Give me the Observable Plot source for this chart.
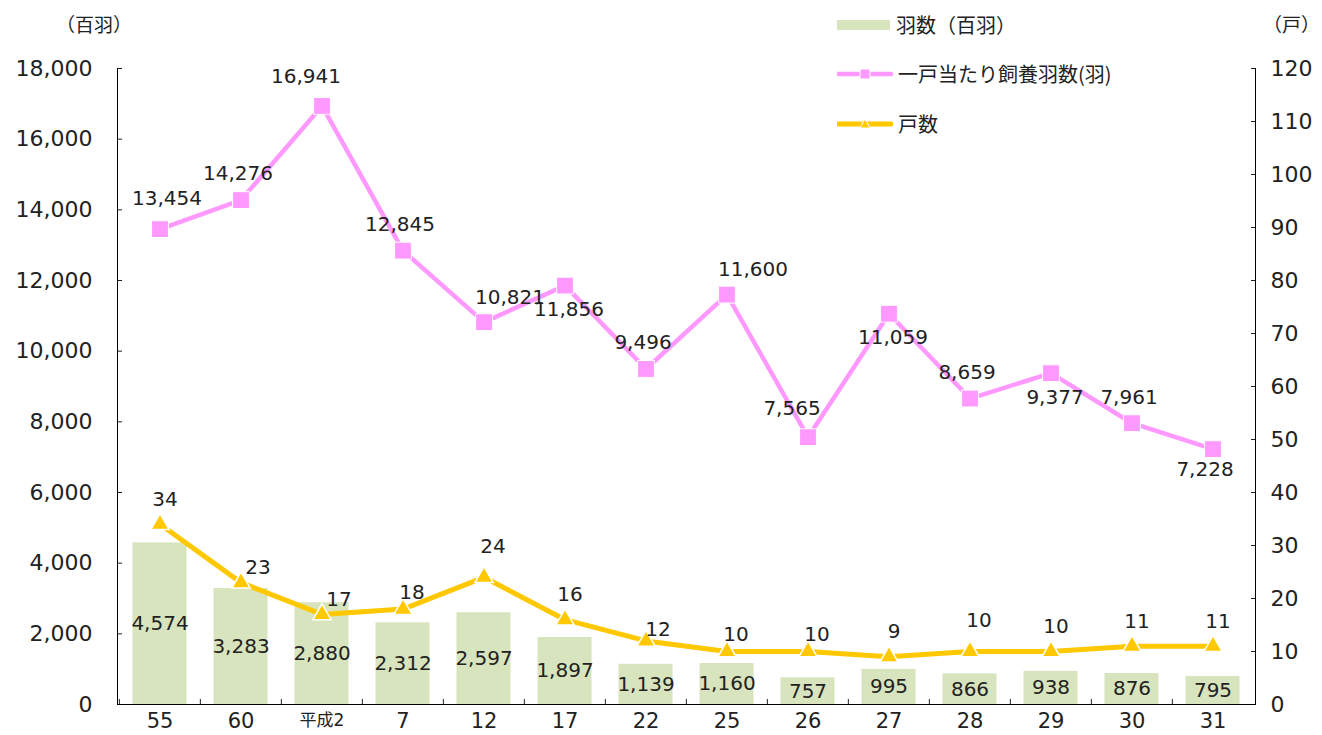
<!DOCTYPE html>
<html><head><meta charset="utf-8">
<script src="https://cdn.jsdelivr.net/npm/d3@7"></script>
<script src="https://cdn.jsdelivr.net/npm/@observablehq/plot@0.6"></script>
<style>
html,body{margin:0;padding:0;background:#fff;}
#wrap{position:relative;width:1322px;height:735px;font-family:"Noto Sans CJK JP","Noto Sans",sans-serif;color:#222;overflow:hidden;}
#wrap svg{position:absolute;left:0;top:0;}
.ttl{position:absolute;font-size:19px;line-height:24px;white-space:nowrap;}
.leg{position:absolute;left:837px;font-size:20px;line-height:24px;display:flex;align-items:center;white-space:nowrap;}
.leg svg{position:static!important;margin-right:5px;}
</style></head><body>
<div id="wrap"></div>
<script>
// ---- data ----
const categories = ["55","60","平成2","7","12","17","22","25","26","27","28","29","30","31"];
const birds = [4574,3283,2880,2312,2597,1897,1139,1160,757,995,866,938,876,795];
const perHousehold = [13454,14276,16941,12845,10821,11856,9496,11600,7565,11059,8659,9377,7961,7228];
const households = [34,23,17,18,24,16,12,10,10,9,10,10,11,11];
const leftTicks = [0,2000,4000,6000,8000,10000,12000,14000,16000,18000];
const rightTicks = [0,10,20,30,40,50,60,70,80,90,100,110,120];
const seriesNames = ["羽数（百羽）","一戸当たり飼養羽数(羽)","戸数"];
const leftUnit = "（百羽）";
const rightUnit = "（戸）";

// ---- layout / style ----
const W = 1322, H = 735, mL = 117, mR = 67, mT = 68, mB = 31;
const green = "#d7e4bd", pink = "#ff99ff", yellow = "#ffc800";
const numFont = '"DejaVu Sans","Noto Sans CJK JP",sans-serif';
const ratio = leftTicks[leftTicks.length-1] / rightTicks[rightTicks.length-1];
const step = (W - mL - mR) / categories.length;
const fmt = d3.format(",");

const data = categories.map((c, i) => ({c, i, birds: birds[i], per: perHousehold[i], hh: households[i]}));

// label placements (layout only)
const pinkPlace = [
  {idx:[0], dx:7, dy:-31},
  {idx:[1,3,6,10,12], dx:-3, dy:-26},
  {idx:[2,8], dx:-16, dy:-29},
  {idx:[4,7], dx:26, dy:-25},
  {idx:[5,9,11], dx:4, dy:24},
  {idx:[13], dx:-8, dy:20}
];
const yellowPlace = [
  {idx:[1,2], dx:17, dy:-15},
  {idx:[6], dx:12, dy:-11},
  {idx:[3,7,8], dx:9, dy:-17},
  {idx:[0,5,9,11,12,13], dx:5, dy:-25},
  {idx:[4,10], dx:9, dy:-31}
];

const labelMarks = [];
for (const p of pinkPlace) {
  labelMarks.push(Plot.text(data.filter(d => p.idx.includes(d.i)), {
    x: "c", y: "per", text: d => fmt(d.per), dx: p.dx, dy: p.dy, fontSize: 20, fill: "#222"
  }));
}
for (const p of yellowPlace) {
  labelMarks.push(Plot.text(data.filter(d => p.idx.includes(d.i)), {
    x: "c", y: d => d.hh * ratio, text: d => String(d.hh), dx: p.dx, dy: p.dy, fontSize: 20, fill: "#222"
  }));
}

const chart = Plot.plot({
  width: W, height: H,
  marginLeft: mL, marginRight: mR, marginTop: mT, marginBottom: mB,
  style: {fontFamily: numFont, fontSize: "20px", color: "#222", background: "transparent"},
  x: {domain: categories, padding: 0, label: null},
  y: {domain: [0, leftTicks[leftTicks.length-1]], label: null},
  marks: [
    Plot.barY(data, {x: "c", y: "birds", fill: green, insetLeft: 13.5, insetRight: 13.5}),
    Plot.text(data, {x: "c", y: d => d.birds / 2, text: d => fmt(d.birds), fontSize: 20, fill: "#222"}),
    Plot.line(data, {x: "c", y: "per", stroke: pink, strokeWidth: 4.5, strokeLinejoin: "round"}),
    Plot.dot(data, {x: "c", y: "per", symbol: "square", r: 9.5, fill: pink, stroke: "#fff", strokeWidth: 1}),
    Plot.line(data, {x: "c", y: d => d.hh * ratio, stroke: yellow, strokeWidth: 5, strokeLinejoin: "round"}),
    Plot.dot(data, {x: "c", y: d => d.hh * ratio, symbol: "triangle", r: 6.8, fill: yellow, stroke: "#fff", strokeWidth: 1.5}),
    ...labelMarks,
    Plot.axisY(leftTicks, {anchor: "left", tickSize: -5, tickPadding: 30, tickFormat: fmt, fontSize: 22, label: null}),
    Plot.axisY(rightTicks.map(v => v * ratio), {anchor: "right", tickSize: -5, tickPadding: 20, tickFormat: v => String(Math.round(v / ratio)), fontSize: 22, label: null}),
    Plot.axisX({tickSize: 0, tickPadding: 9, fontSize: 21, label: null}),
    Plot.axisX({tickSize: -5, tickFormat: () => "", dx: -step / 2, label: null}),
    Plot.frame({anchor: "left", stroke: "#000"}),
    Plot.frame({anchor: "right", stroke: "#000"}),
    Plot.frame({anchor: "bottom", stroke: "#000"})
  ]
});

const wrap = document.getElementById("wrap");
wrap.appendChild(chart);

// "平成2" label is set slightly smaller in the reference
chart.querySelectorAll("text").forEach(t => { if (t.textContent === "平成2") t.setAttribute("font-size", "17"); });

// unit titles
const t1 = document.createElement("div"); t1.className = "ttl"; t1.textContent = leftUnit;
t1.style.left = "56px"; t1.style.top = "12px"; wrap.appendChild(t1);
const t2 = document.createElement("div"); t2.className = "ttl"; t2.textContent = rightUnit;
t2.style.left = "1263px"; t2.style.top = "12px"; wrap.appendChild(t2);

// legend
const legSw = [
  `<svg width="54" height="14"><rect x="0" y="2" width="53" height="10" fill="${green}"/></svg>`,
  `<svg width="56" height="14"><line x1="1" y1="7" x2="54" y2="7" stroke="${pink}" stroke-width="4.5" stroke-linecap="round"/><rect x="23" y="2" width="10" height="10" fill="${pink}" stroke="#fff" stroke-width="1"/></svg>`,
  `<svg width="56" height="14"><line x1="1" y1="7" x2="54" y2="7" stroke="${yellow}" stroke-width="5" stroke-linecap="round"/><path d="M28,2 L33,11 L23,11 Z" fill="${yellow}" stroke="#fff" stroke-width="1"/></svg>`
];
const legY = [25, 74, 124];
seriesNames.forEach((name, i) => {
  const d = document.createElement("div"); d.className = "leg";
  d.style.top = (legY[i] - 12) + "px";
  d.innerHTML = legSw[i] + `<span>${name}</span>`;
  wrap.appendChild(d);
});
</script>
</body></html>
